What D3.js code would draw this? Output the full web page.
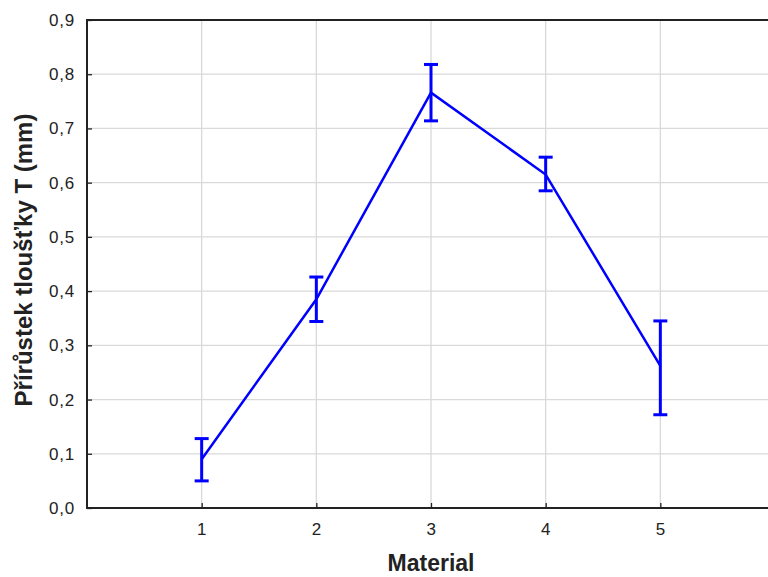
<!DOCTYPE html>
<html>
<head>
<meta charset="utf-8">
<script src="https://cdn.jsdelivr.net/npm/d3@7"></script>
<style>
  body { margin: 0; background: #fff; }
  svg { display: block; font-family: "Liberation Sans", Arial, sans-serif; }
</style>
</head>
<body>
<div id="chart"></div>
<script>
// Mean thickness increase per material, with error bar ends
const materials = [1, 2, 3, 4, 5];
const means = [0.090, 0.385, 0.766, 0.615, 0.262];
const errLow = [0.050, 0.344, 0.714, 0.585, 0.172];
const errHigh = [0.128, 0.426, 0.818, 0.647, 0.345];
const yTicks = [0, 0.1, 0.2, 0.3, 0.4, 0.5, 0.6, 0.7, 0.8, 0.9];

const width = 768, height = 577;
const margin = { top: 20, right: -7, bottom: 69, left: 87 };

const svg = d3.select("#chart").append("svg")
  .attr("width", width)
  .attr("height", height);

const x = d3.scaleLinear()
  .domain([0, 6])
  .range([margin.left, width - margin.right]);

const y = d3.scaleLinear()
  .domain([0, 0.9])
  .range([height - margin.bottom, margin.top]);

const fmt = d => d.toFixed(1).replace(".", ",");

// grid
svg.append("g")
  .selectAll("line")
  .data(yTicks.slice(1, -1))
  .join("line")
  .attr("x1", x(0)).attr("x2", x(6))
  .attr("y1", d => y(d)).attr("y2", d => y(d))
  .attr("stroke", "#d9d9d9").attr("stroke-width", 1.3);

svg.append("g")
  .selectAll("line")
  .data(materials)
  .join("line")
  .attr("x1", d => x(d)).attr("x2", d => x(d))
  .attr("y1", y(0)).attr("y2", y(0.9))
  .attr("stroke", "#d9d9d9").attr("stroke-width", 1.3);

// axes
const yAxis = svg.append("g")
  .attr("transform", `translate(${x(0)},0)`)
  .call(d3.axisLeft(y).tickValues(yTicks).tickFormat(fmt).tickSize(-5).tickPadding(12));
const xAxis = svg.append("g")
  .attr("transform", `translate(0,${y(0)})`)
  .call(d3.axisBottom(x).tickValues(materials).tickFormat(d3.format("d")).tickSize(-5).tickPadding(15));

[yAxis, xAxis].forEach(g => {
  g.select(".domain").remove();
  g.selectAll(".tick line").attr("stroke", "#222").attr("stroke-width", 1.3);
  g.selectAll(".tick text")
    .attr("font-size", 17)
    .attr("letter-spacing", 0.8)
    .attr("fill", "#222")
    .attr("font-family", "'Liberation Sans', Arial, sans-serif");
});

// frame
svg.append("path")
  .attr("d", `M${x(6)},${y(0.9)}H${x(0)}V${y(0)}H${x(6)}`)
  .attr("fill", "none")
  .attr("stroke", "#222")
  .attr("stroke-width", 2);

// line
const pts = materials.map((m, i) => ({ m, v: means[i], lo: errLow[i], hi: errHigh[i] }));
svg.append("path")
  .datum(pts)
  .attr("d", d3.line().x(d => x(d.m)).y(d => y(d.v)))
  .attr("fill", "none")
  .attr("stroke", "#0000ff")
  .attr("stroke-width", 2.5);

// error bars
const eb = svg.append("g").selectAll("g").data(pts).join("g")
  .attr("stroke", "#0000ff")
  .attr("stroke-width", 3);
eb.append("line")
  .attr("x1", d => x(d.m)).attr("x2", d => x(d.m))
  .attr("y1", d => y(d.lo)).attr("y2", d => y(d.hi));
eb.append("line")
  .attr("x1", d => x(d.m) - 7).attr("x2", d => x(d.m) + 7)
  .attr("y1", d => y(d.hi)).attr("y2", d => y(d.hi));
eb.append("line")
  .attr("x1", d => x(d.m) - 7).attr("x2", d => x(d.m) + 7)
  .attr("y1", d => y(d.lo)).attr("y2", d => y(d.lo));

// titles
svg.append("text")
  .attr("x", x(3)).attr("y", 571)
  .attr("text-anchor", "middle")
  .attr("font-size", 23).attr("font-weight", "bold").attr("fill", "#222")
  .text("Material");

svg.append("text")
  .attr("transform", `translate(32,260) rotate(-90)`)
  .attr("text-anchor", "middle")
  .attr("font-size", 24).attr("font-weight", "bold").attr("fill", "#222")
  .text("Přírůstek tloušťky T (mm)");
</script>
</body>
</html>
